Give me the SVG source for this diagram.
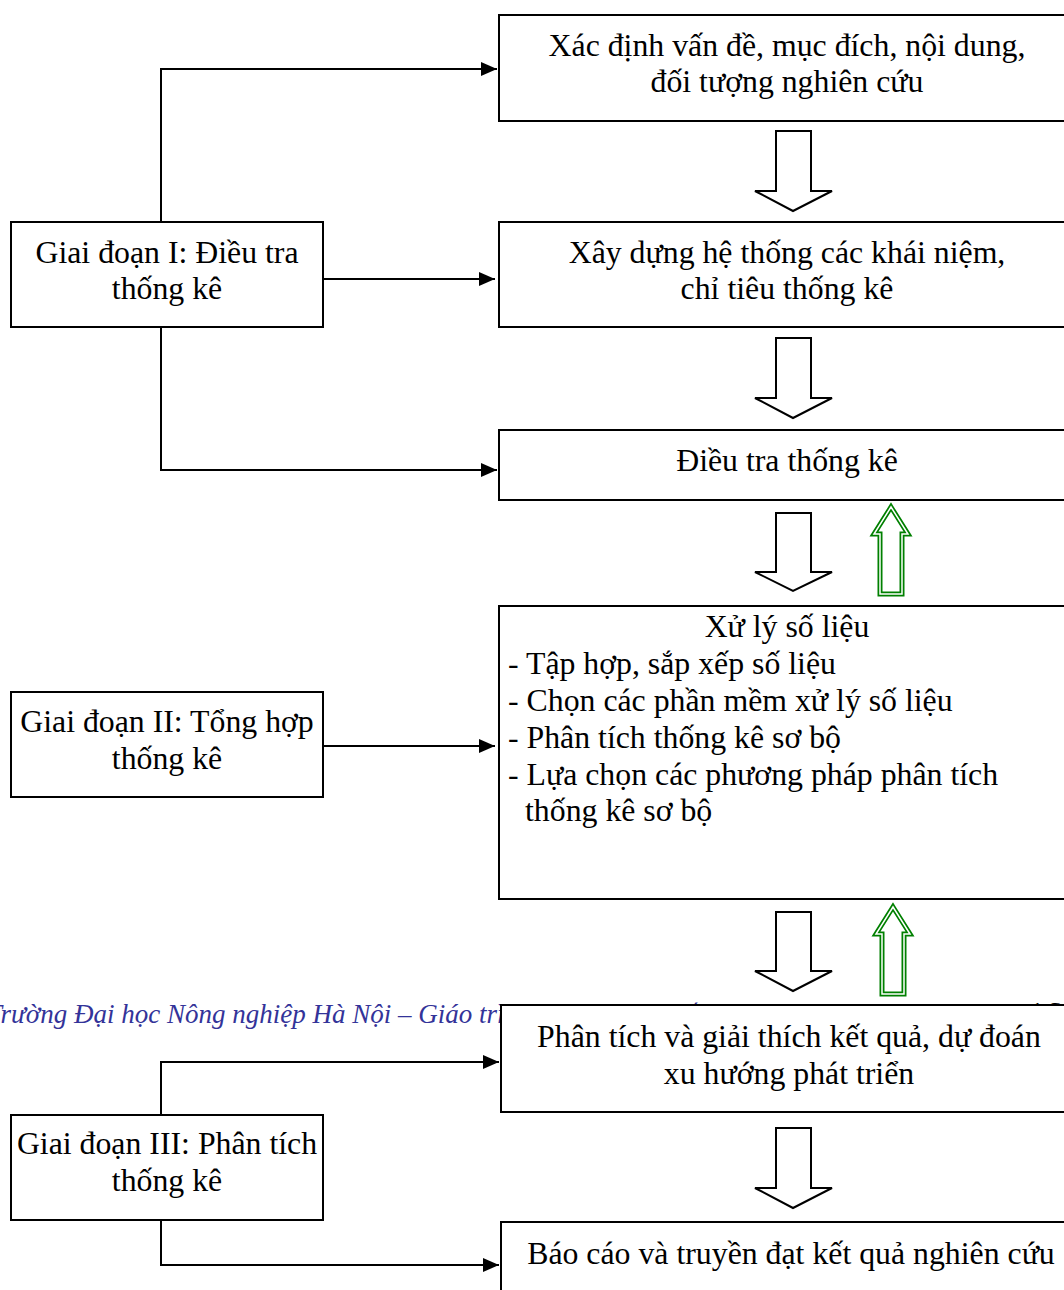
<svg xmlns="http://www.w3.org/2000/svg" width="1064" height="1290" viewBox="0 0 1064 1290">
<style>
.bx{fill:#fff;stroke:#000;stroke-width:2}
.t{font-family:"Liberation Serif","Times New Roman",serif;font-size:31.8px;fill:#000}
.c{text-anchor:middle}
.ln{fill:none;stroke:#000;stroke-width:2}
.da{fill:#fff;stroke:#000;stroke-width:2;stroke-linejoin:miter}
.ga{fill:#fff;stroke:#008000;stroke-width:5}
.gi{fill:none;stroke:#fff;stroke-width:1.5}
.ft{font-family:"Liberation Serif","Times New Roman",serif;font-style:italic;font-size:27px;fill:#333399}
</style>
<defs>
<marker id="ah2" markerWidth="16" markerHeight="14" refX="16" refY="7" orient="auto" markerUnits="userSpaceOnUse" viewBox="0 0 16 14">
<path d="M0,0 L16,7 L0,14 Z" fill="#000"/>
</marker>
</defs>
<rect width="1064" height="1290" fill="#fff"/>
<text class="ft" x="-13" y="1023">Trường Đại học Nông nghiệp Hà Nội – Giáo trình Nguyên lý Thống kê ...........</text>
<text class="t" x="1028" y="1025" style="font-size:34px">16</text>
<g id="connectors">
<polyline class="ln" points="161,222 161,69 497,69" marker-end="url(#ah2)"/>
<line class="ln" x1="323" y1="279" x2="495" y2="279" marker-end="url(#ah2)"/>
<polyline class="ln" points="161,327 161,470 497,470" marker-end="url(#ah2)"/>
<line class="ln" x1="323" y1="746" x2="495" y2="746" marker-end="url(#ah2)"/>
<polyline class="ln" points="161,1115 161,1062 499,1062" marker-end="url(#ah2)"/>
<polyline class="ln" points="161,1220 161,1265 499,1265" marker-end="url(#ah2)"/>
<polygon class="da" points="776,131 811,131 811,191 832,191 793,211 755,191 776,191"/>
<polygon class="da" points="776,338 811,338 811,398 832,398 793,418 755,398 776,398"/>
<polygon class="da" points="776,513 811,513 811,572 832,572 793,591 755,572 776,572"/>
<polygon class="da" points="776,912 811,912 811,971 832,971 793,991 755,971 776,971"/>
<polygon class="da" points="776,1128 811,1128 811,1188 832,1188 793,1208 755,1188 776,1188"/>
<polygon class="ga" points="891,507 908,534 902,534 902,594 880,594 880,534 874,534"/>
<polygon class="gi" points="891,507 908,534 902,534 902,594 880,594 880,534 874,534"/>
<polygon class="ga" points="893,907 910,934 904,934 904,994 882,994 882,934 876,934"/>
<polygon class="gi" points="893,907 910,934 904,934 904,994 882,994 882,934 876,934"/>
</g>
<g id="n1"><rect class="bx" x="499" y="15" width="580" height="106"/>
<text class="t c" x="787" y="56">Xác định vấn đề, mục đích, nội dung,</text>
<text class="t c" x="787" y="92">đối tượng nghiên cứu</text></g>
<g id="n2"><rect class="bx" x="499" y="222" width="580" height="105"/>
<text class="t c" x="787" y="263">Xây dựng hệ thống các khái niệm,</text>
<text class="t c" x="787" y="299">chỉ tiêu thống kê</text></g>
<g id="n3"><rect class="bx" x="499" y="430" width="580" height="70"/>
<text class="t c" x="787" y="471">Điều tra thống kê</text></g>
<g id="n4"><rect class="bx" x="499" y="606" width="580" height="293"/>
<text class="t c" x="787" y="637">Xử lý số liệu</text>
<text class="t" x="508" y="674">- Tập hợp, sắp xếp số liệu</text>
<text class="t" x="508" y="711">- Chọn các phần mềm xử lý số liệu</text>
<text class="t" x="508" y="748">- Phân tích thống kê sơ bộ</text>
<text class="t" x="508" y="785">- Lựa chọn các phương pháp phân tích</text>
<text class="t" x="525" y="821">thống kê sơ bộ</text></g>
<g id="n5"><rect class="bx" x="501" y="1005" width="578" height="107"/>
<text class="t c" x="789" y="1047">Phân tích và giải thích kết quả, dự đoán</text>
<text class="t c" x="789" y="1084">xu hướng phát triển</text></g>
<g id="n6"><rect class="bx" x="501" y="1222" width="578" height="90"/>
<text class="t c" x="791" y="1264">Báo cáo và truyền đạt kết quả nghiên cứu</text></g>
<g id="a"><rect class="bx" x="11" y="222" width="312" height="105"/>
<text class="t c" x="167" y="263">Giai đoạn I: Điều tra</text>
<text class="t c" x="167" y="299">thống kê</text></g>
<g id="b"><rect class="bx" x="11" y="692" width="312" height="105"/>
<text class="t c" x="167" y="732">Giai đoạn II: Tổng hợp</text>
<text class="t c" x="167" y="769">thống kê</text></g>
<g id="c"><rect class="bx" x="11" y="1115" width="312" height="105"/>
<text class="t c" x="167" y="1154">Giai đoạn III: Phân tích</text>
<text class="t c" x="167" y="1191">thống kê</text></g>
</svg>
